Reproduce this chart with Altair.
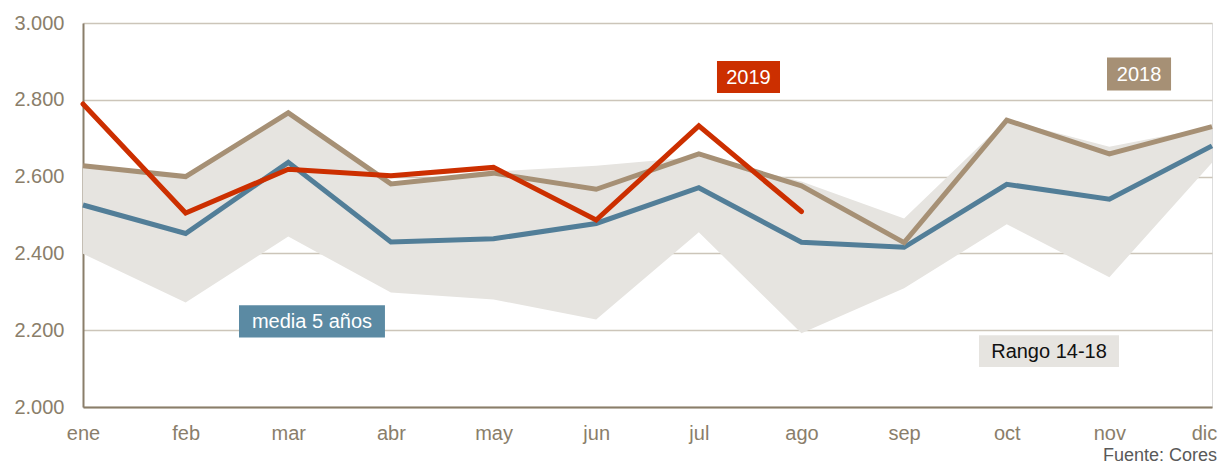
import altair as alt
import pandas as pd

months = ["ene", "feb", "mar", "abr", "may", "jun", "jul", "ago", "sep", "oct", "nov", "dic"]
serie_2019 = [2789, 2505, 2619, 2602, 2624, 2487, 2732, 2509]
serie_2018 = [2628, 2600, 2766, 2581, 2609, 2567, 2659, 2576, 2428, 2747, 2659, 2730]
media_5 = [2526, 2452, 2637, 2430, 2438, 2478, 2571, 2429, 2416, 2580, 2541, 2680]
rango_max = [2630, 2602, 2766, 2585, 2613, 2628, 2652, 2587, 2491, 2748, 2678, 2730]
rango_min = [2399, 2272, 2444, 2298, 2280, 2228, 2455, 2192, 2309, 2476, 2338, 2636]

# annotation boxes (label, x0, x1, y0, y1, fill, text colour)
labels = ["2019", "2018", "media 5 años", "Rango 14-18"]
lab_x0 = [6.177, 9.977, 1.520, 8.730]
lab_x1 = [6.791, 10.601, 2.942, 10.094]
lab_y0 = [2818, 2824, 2181, 2104]
lab_y1 = [2901, 2910, 2265, 2187]
lab_fill = ["#cc2f00", "#a69075", "#5b8aa3", "#e6e4e0"]
lab_text = ["#ffffff", "#ffffff", "#ffffff", "#111111"]

idx = list(range(len(months)))
band = pd.DataFrame({"m": idx, "lo": rango_min, "hi": rango_max})
d2019 = pd.DataFrame({"m": idx[:len(serie_2019)], "v": serie_2019})
d2018 = pd.DataFrame({"m": idx, "v": serie_2018})
dmed = pd.DataFrame({"m": idx, "v": media_5})
dlab = pd.DataFrame({"label": labels, "x0": lab_x0, "x1": lab_x1, "y0": lab_y0, "y1": lab_y1,
                     "fill": lab_fill, "tc": lab_text})
dlab["xm"] = (dlab["x0"] + dlab["x1"]) / 2
dlab["ym"] = (dlab["y0"] + dlab["y1"]) / 2

month_expr = "[" + ",".join("'%s'" % m for m in months) + "][datum.value]"

xscale = alt.Scale(domain=[0, 11], nice=False, zero=False)
yscale = alt.Scale(domain=[2000, 3000], nice=False, zero=False)

axis_color = "#8a7e6a"
xaxis = alt.Axis(values=idx, labelExpr=month_expr, title=None, grid=False, ticks=False,
                 labelPadding=16, labelFontSize=20, labelColor=axis_color, domainColor=axis_color,
                 domainWidth=2, labelFont="Liberation Sans", labelFlush=False,
                 labelOffset={"condition": {"test": "datum.value == 11", "value": -8}, "value": 0})
yaxis = alt.Axis(values=[2000, 2200, 2400, 2600, 2800, 3000],
                 labelExpr="replace(format(datum.value, ','), ',', '.')",
                 title=None, ticks=False, labelPadding=19, labelFontSize=20, labelColor=axis_color,
                 domainColor=axis_color, domainWidth=2, gridColor="#ccc5b9", gridWidth=1.5,
                 labelFont="Liberation Sans")

X = alt.X("m:Q", scale=xscale, axis=xaxis)

area = alt.Chart(band).mark_area(color="#e6e4e0", opacity=1).encode(
    x=X, y=alt.Y("lo:Q", scale=yscale, axis=yaxis), y2="hi:Q")

line_med = alt.Chart(dmed).mark_line(color="#527e98", strokeWidth=5, strokeJoin="miter").encode(x="m:Q", y="v:Q")
line_18 = alt.Chart(d2018).mark_line(color="#a69075", strokeWidth=5, strokeJoin="miter").encode(x="m:Q", y="v:Q")
line_19 = alt.Chart(d2019).mark_line(color="#cc2f00", strokeWidth=5, strokeJoin="miter", strokeCap="round").encode(x="m:Q", y="v:Q")

boxes = alt.Chart(dlab).mark_rect().encode(
    x="x0:Q", x2="x1:Q", y="y0:Q", y2="y1:Q",
    color=alt.Color("fill:N", scale=None))
texts = alt.Chart(dlab).mark_text(fontSize=20, font="Liberation Sans", baseline="middle", align="center", dy=1).encode(
    x="xm:Q", y="ym:Q", text="label:N", color=alt.Color("tc:N", scale=None))

source = alt.Chart(pd.DataFrame({"t": ["Fuente: Cores"]})).mark_text(
    fontSize=18, font="Liberation Sans", align="right", baseline="alphabetic", color="#595959").encode(
    x=alt.value(1134), y=alt.value(438), text="t:N")

chart = alt.layer(area, line_med, line_18, line_19, boxes, texts, source).properties(
    width=1129, height=384,
    autosize=alt.AutoSizeParams(type="none"),
    padding={"left": 75, "top": 15, "right": 7, "bottom": 60},
).configure_view(stroke=None).configure(background="white")

chart.save("out.html", embed_options={"renderer": "svg", "actions": False})
